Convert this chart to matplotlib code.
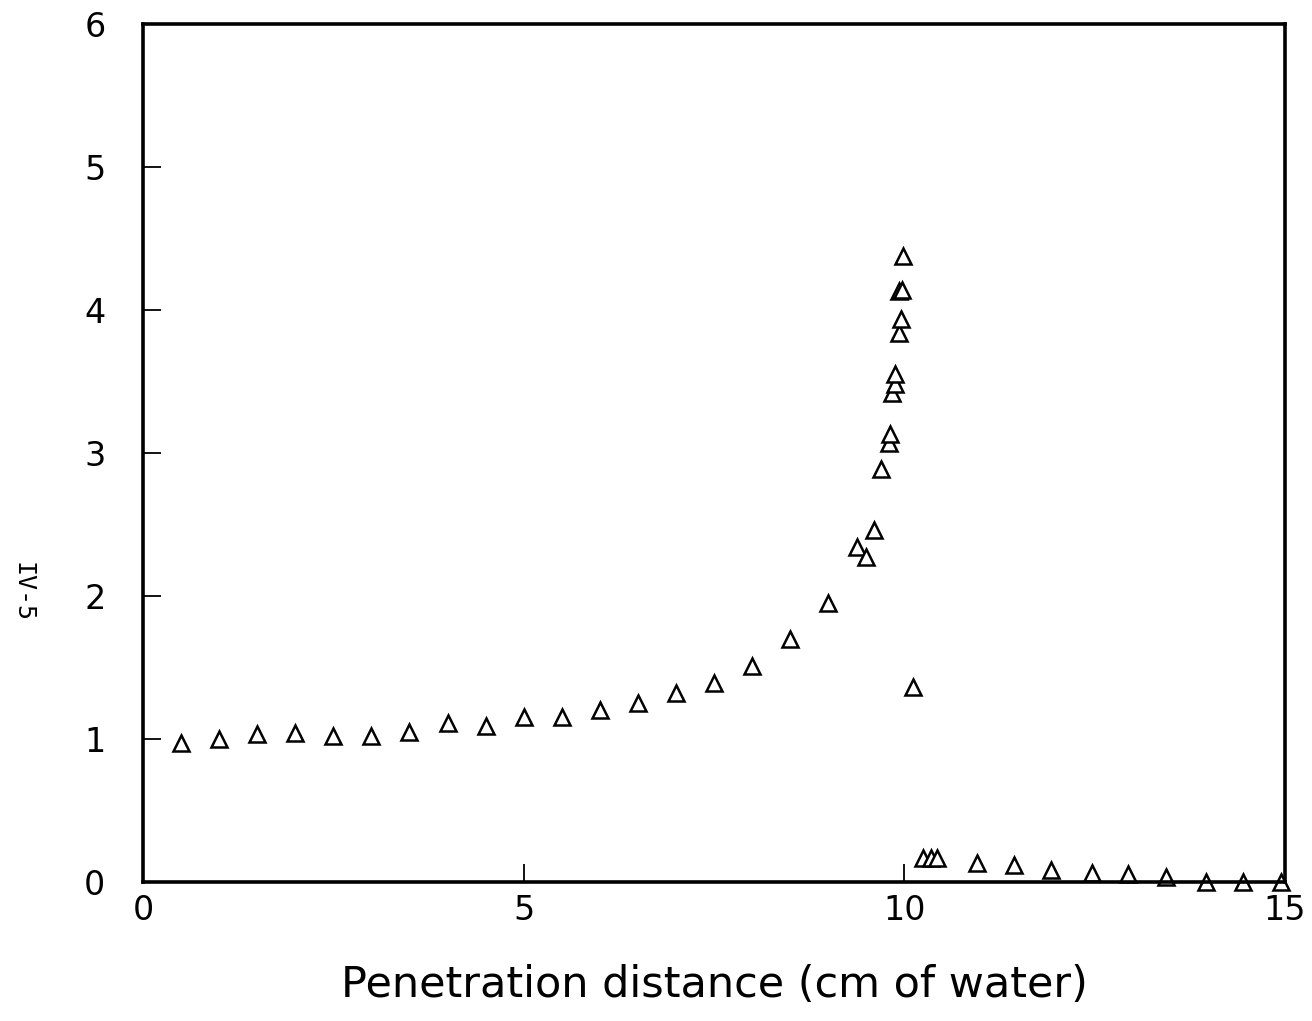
import numpy as np
import matplotlib.pyplot as plt

# measured dose ratio vs depth in water
depth_rise = [0.5, 1.0, 1.5, 2.0, 2.5, 3.0, 3.5, 4.0, 4.5, 5.0, 5.5, 6.0,
              6.5, 7.0, 7.5, 8.0, 8.5, 9.0]
ratio_rise = [0.97, 1.00, 1.035, 1.04, 1.02, 1.02, 1.05, 1.11, 1.09, 1.155,
              1.155, 1.20, 1.25, 1.32, 1.39, 1.51, 1.70, 1.95]

depth_peak = [9.38, 9.50, 9.60, 9.69, 9.80, 9.81, 9.84, 9.88, 9.88, 9.93,
              9.96, 9.93, 9.97, 9.98, 10.11]
ratio_peak = [2.345, 2.275, 2.46, 2.885, 3.07, 3.13, 3.42, 3.48, 3.55, 3.84,
              3.94, 4.13, 4.14, 4.38, 1.365]

depth_tail = [10.25, 10.35, 10.43, 10.95, 11.44, 11.93, 12.47, 12.94, 13.44,
              13.96, 14.45, 14.95]
ratio_tail = [0.168, 0.168, 0.168, 0.133, 0.12, 0.084, 0.063, 0.056, 0.035,
              0.0, 0.0, 0.0]

x = np.array(depth_rise + depth_peak + depth_tail)
y = np.array(ratio_rise + ratio_peak + ratio_tail)

fig = plt.figure(figsize=(13.12, 10.21), dpi=100)
ax = fig.add_axes([143 / 1312, 1 - 882 / 1021, (1285 - 143) / 1312, (882 - 24) / 1021])

ax.plot(x, y, linestyle='none', marker='^', markersize=12,
        markerfacecolor='white', markeredgecolor='black', markeredgewidth=1.8,
        clip_on=False)

ax.set_xlim(0, 15)
ax.set_ylim(0, 6)
ax.set_xticks([0, 5, 10, 15])
ax.set_yticks([0, 1, 2, 3, 4, 5, 6])

for s in ax.spines.values():
    s.set_linewidth(2.6)

ax.tick_params(direction='in', length=13, width=1.3, labelsize=24)
ax.tick_params(axis='y', pad=27)
ax.tick_params(axis='x', pad=9)
for lbl in ax.get_xticklabels() + ax.get_yticklabels():
    lbl.set_family('DejaVu Sans')

ax.set_xlabel('Penetration distance (cm of water)', fontsize=31,
              family='DejaVu Sans', labelpad=26)

fig.text(22 / 1312, 1 - 592 / 1021, 'IV-5', rotation=270, fontsize=18,
         family='DejaVu Sans Mono', ha='center', va='center')

fig.savefig('out.png', dpi=100)
